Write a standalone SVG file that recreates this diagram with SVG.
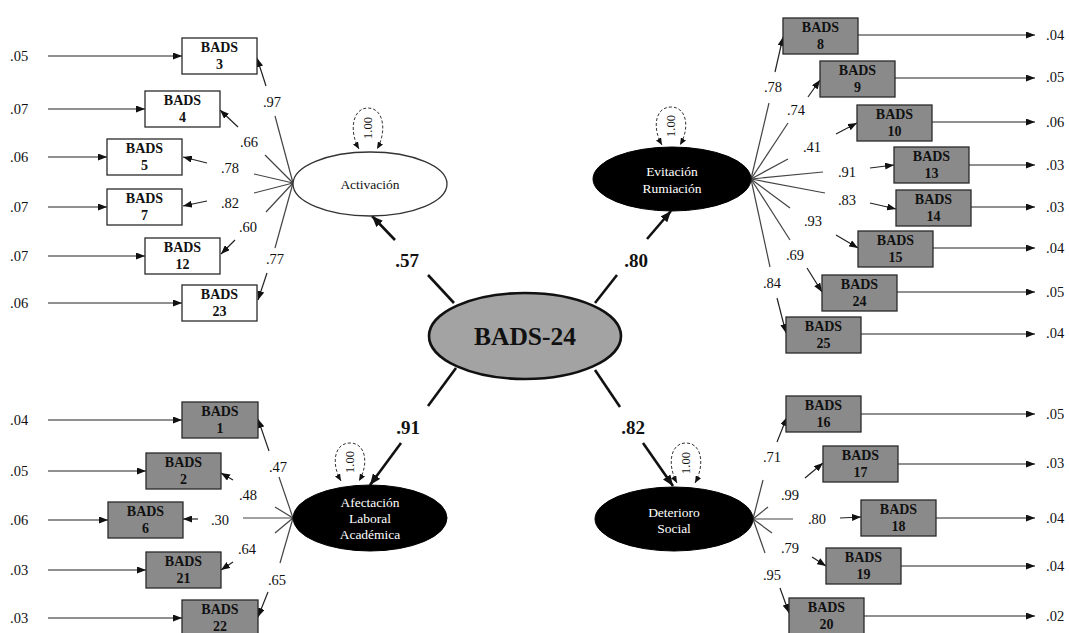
<svg xmlns="http://www.w3.org/2000/svg" width="1069" height="633" viewBox="0 0 1069 633">
<style>
text{font-family:"Liberation Serif","Times New Roman",serif;fill:#111}
.box rect{fill:#8a8a8a;stroke:#2a2a2a;stroke-width:1.3}
.wbox rect{fill:#fff;stroke:#2a2a2a;stroke-width:1.3}
.bt{font-size:14px;font-weight:bold;text-anchor:middle}
.ld{font-size:14.5px;text-anchor:middle}
.er{font-size:14.5px}
.sl{font-size:19px;font-weight:bold;text-anchor:middle}
.fan{stroke:#444;stroke-width:1.2;fill:none}
.ar{stroke:#222;stroke-width:1.2;fill:none;marker-end:url(#ah)}
.st{stroke:#111;stroke-width:2.6;fill:none}
.sa{stroke:#111;stroke-width:2.6;fill:none;marker-end:url(#ahb)}
.lp{stroke:#333;stroke-width:1;stroke-dasharray:3,2;fill:none;marker-start:url(#ahd);marker-end:url(#ahd)}
.lpt{font-size:12.5px;text-anchor:middle}
.el{font-size:13.5px;text-anchor:middle}
</style>
<defs>
<marker id="ah" markerUnits="userSpaceOnUse" markerWidth="9" markerHeight="7" refX="9" refY="3.5" orient="auto"><path d="M0,0 L9,3.5 L0,7 z" fill="#111"/></marker>
<marker id="ahb" markerUnits="userSpaceOnUse" markerWidth="11" markerHeight="9" refX="11" refY="4.5" orient="auto"><path d="M0,0 L11,4.5 L0,9 z" fill="#111"/></marker>
<marker id="ahd" markerUnits="userSpaceOnUse" markerWidth="7" markerHeight="6" refX="7" refY="3" orient="auto-start-reverse"><path d="M0,0 L7,3 L0,6 z" fill="#111"/></marker>
</defs>
<rect width="1069" height="633" fill="#fff"/>

<g id="connectors">
<line class="ar" x1="48" y1="56" x2="182" y2="56"/>
<line class="ar" x1="48" y1="109" x2="145" y2="109"/>
<line class="ar" x1="48" y1="157" x2="107" y2="157"/>
<line class="ar" x1="48" y1="207" x2="107" y2="207"/>
<line class="ar" x1="48" y1="256" x2="145" y2="256"/>
<line class="ar" x1="48" y1="303" x2="182" y2="303"/>
<line class="ar" x1="48" y1="420" x2="182" y2="420"/>
<line class="ar" x1="48" y1="471" x2="146" y2="471"/>
<line class="ar" x1="48" y1="520" x2="108" y2="520"/>
<line class="ar" x1="48" y1="570" x2="146" y2="570"/>
<line class="ar" x1="48" y1="618" x2="182" y2="618"/>
<line class="ar" x1="858" y1="35" x2="1035" y2="35"/>
<line class="ar" x1="895" y1="78" x2="1035" y2="78"/>
<line class="ar" x1="932" y1="122" x2="1035" y2="122"/>
<line class="ar" x1="969" y1="165" x2="1035" y2="165"/>
<line class="ar" x1="971" y1="207" x2="1035" y2="207"/>
<line class="ar" x1="933" y1="248" x2="1035" y2="248"/>
<line class="ar" x1="897" y1="292" x2="1035" y2="292"/>
<line class="ar" x1="861" y1="334" x2="1035" y2="334"/>
<line class="ar" x1="861" y1="414" x2="1035" y2="414"/>
<line class="ar" x1="898" y1="464" x2="1035" y2="464"/>
<line class="ar" x1="936" y1="518" x2="1035" y2="518"/>
<line class="ar" x1="901" y1="566" x2="1035" y2="566"/>
<line class="ar" x1="864" y1="616" x2="1035" y2="616"/>

<line class="fan" x1="293" y1="183" x2="275" y2="116"/><line class="ar" x1="266" y1="86" x2="257" y2="58"/>
<line class="fan" x1="293" y1="183" x2="265" y2="155"/><line class="ar" x1="238" y1="127" x2="220" y2="110"/>
<line class="fan" x1="293" y1="183" x2="254" y2="174"/><line class="ar" x1="207" y1="163" x2="183" y2="157"/>
<line class="fan" x1="293" y1="183" x2="254" y2="193"/><line class="ar" x1="207" y1="201" x2="183" y2="206"/>
<line class="fan" x1="293" y1="183" x2="266" y2="212"/><line class="ar" x1="235" y1="240" x2="221" y2="254"/>
<line class="fan" x1="293" y1="183" x2="275" y2="248"/><line class="ar" x1="267" y1="273" x2="258" y2="300"/>

<line class="fan" x1="751" y1="179" x2="769" y2="103"/><line class="ar" x1="775" y1="72" x2="783" y2="37"/>
<line class="fan" x1="751" y1="179" x2="788" y2="123"/><line class="ar" x1="808" y1="97" x2="820" y2="80"/>
<line class="fan" x1="751" y1="179" x2="788" y2="159"/><line class="ar" x1="836" y1="134" x2="857" y2="123"/>
<line class="fan" x1="751" y1="179" x2="823" y2="172"/><line class="ar" x1="870" y1="168" x2="894" y2="165"/>
<line class="fan" x1="751" y1="179" x2="825" y2="193"/><line class="ar" x1="870" y1="203" x2="896" y2="209"/>
<line class="fan" x1="751" y1="179" x2="790" y2="208"/><line class="ar" x1="836" y1="235" x2="858" y2="248"/>
<line class="fan" x1="751" y1="179" x2="790" y2="240"/><line class="ar" x1="807" y1="268" x2="822" y2="292"/>
<line class="fan" x1="751" y1="179" x2="770" y2="267"/><line class="ar" x1="777" y1="298" x2="786" y2="333"/>

<line class="fan" x1="293" y1="518" x2="279" y2="477"/><line class="ar" x1="269" y1="451" x2="258" y2="419"/>
<line class="fan" x1="293" y1="518" x2="275" y2="507"/><line class="ar" x1="233" y1="480" x2="221" y2="473"/>
<line class="fan" x1="293" y1="518" x2="243" y2="518"/><line class="ar" x1="198" y1="519" x2="183" y2="519"/>
<line class="fan" x1="293" y1="518" x2="275" y2="533"/><line class="ar" x1="233" y1="562" x2="221" y2="570"/>
<line class="fan" x1="293" y1="518" x2="280" y2="563"/><line class="ar" x1="268" y1="592" x2="258" y2="617"/>

<line class="fan" x1="753" y1="519" x2="763" y2="480"/><line class="ar" x1="777" y1="442" x2="787" y2="417"/>
<line class="fan" x1="753" y1="519" x2="768" y2="507"/><line class="ar" x1="805" y1="478" x2="823" y2="463"/>
<line class="fan" x1="753" y1="519" x2="793" y2="519"/><line class="ar" x1="840" y1="518" x2="861" y2="517"/>
<line class="fan" x1="753" y1="519" x2="772" y2="533"/><line class="ar" x1="812" y1="557" x2="826" y2="566"/>
<line class="fan" x1="753" y1="519" x2="765" y2="553"/><line class="ar" x1="780" y1="588" x2="789" y2="613"/>

<line class="st" x1="454" y1="303" x2="428" y2="275"/><line class="sa" x1="395" y1="240" x2="372" y2="216"/>
<line class="st" x1="595" y1="303" x2="617" y2="275"/><line class="sa" x1="647" y1="239" x2="671" y2="211"/>
<line class="st" x1="456" y1="368" x2="428" y2="406"/><line class="sa" x1="401" y1="443" x2="370" y2="485"/>
<line class="st" x1="595" y1="370" x2="620" y2="407"/><line class="sa" x1="643" y1="443" x2="673" y2="486"/>

<path class="lp" d="M359,149 C349,132 352,108 368,108 C384,108 387,132 377,149"/>
<path class="lp" d="M662,145 C652,128 655,107 671,107 C687,107 690,128 680,145"/>
<path class="lp" d="M341,481 C331,464 334,443 350,443 C366,443 369,464 359,481"/>
<path class="lp" d="M677,483 C667,465 670,443 686,443 C702,443 705,465 695,483"/>
</g>

<g id="labels">
<text class="lpt" transform="translate(372,128) rotate(-90)">1.00</text>
<text class="lpt" transform="translate(675,126) rotate(-90)">1.00</text>
<text class="lpt" transform="translate(354,462) rotate(-90)">1.00</text>
<text class="lpt" transform="translate(690,463) rotate(-90)">1.00</text>

<text class="sl" x="407" y="267">.57</text>
<text class="sl" x="636" y="267">.80</text>
<text class="sl" x="408" y="434">.91</text>
<text class="sl" x="633" y="434">.82</text>

<text class="ld" x="272" y="107">.97</text>
<text class="ld" x="249" y="147">.66</text>
<text class="ld" x="230" y="173">.78</text>
<text class="ld" x="230" y="208">.82</text>
<text class="ld" x="248" y="232">.60</text>
<text class="ld" x="275" y="264">.77</text>

<text class="ld" x="773" y="92">.78</text>
<text class="ld" x="796" y="115">.74</text>
<text class="ld" x="812" y="152">.41</text>
<text class="ld" x="847" y="177">.91</text>
<text class="ld" x="847" y="205">.83</text>
<text class="ld" x="813" y="226">.93</text>
<text class="ld" x="795" y="260">.69</text>
<text class="ld" x="772" y="288">.84</text>

<text class="ld" x="278" y="472">.47</text>
<text class="ld" x="248" y="500">.48</text>
<text class="ld" x="220" y="525">.30</text>
<text class="ld" x="247" y="554">.64</text>
<text class="ld" x="277" y="585">.65</text>

<text class="ld" x="772" y="462">.71</text>
<text class="ld" x="790" y="500">.99</text>
<text class="ld" x="817" y="524">.80</text>
<text class="ld" x="790" y="553">.79</text>
<text class="ld" x="772" y="580">.95</text>

<text class="er" x="10" y="61">.05</text>
<text class="er" x="10" y="114">.07</text>
<text class="er" x="10" y="162">.06</text>
<text class="er" x="10" y="212">.07</text>
<text class="er" x="10" y="261">.07</text>
<text class="er" x="10" y="308">.06</text>
<text class="er" x="10" y="425">.04</text>
<text class="er" x="10" y="476">.05</text>
<text class="er" x="10" y="525">.06</text>
<text class="er" x="10" y="575">.03</text>
<text class="er" x="10" y="623">.03</text>

<text class="er" x="1046" y="40">.04</text>
<text class="er" x="1046" y="82">.05</text>
<text class="er" x="1046" y="127">.06</text>
<text class="er" x="1046" y="170">.03</text>
<text class="er" x="1046" y="212">.03</text>
<text class="er" x="1046" y="253">.04</text>
<text class="er" x="1046" y="297">.05</text>
<text class="er" x="1046" y="338">.04</text>
<text class="er" x="1046" y="419">.05</text>
<text class="er" x="1046" y="468">.03</text>
<text class="er" x="1046" y="523">.04</text>
<text class="er" x="1046" y="571">.04</text>
<text class="er" x="1046" y="621">.02</text>
</g>

<g id="BADS-24">
<ellipse cx="525" cy="336" rx="96" ry="43" fill="#a3a3a3" stroke="#111" stroke-width="2.6"/>
<text x="525" y="345" font-size="25.5" font-weight="bold" text-anchor="middle">BADS-24</text>
</g>
<g id="Activacion">
<ellipse cx="370" cy="184" rx="77" ry="32" fill="#fff" stroke="#333" stroke-width="1.3"/>
<text class="el" x="370" y="189">Activación</text>
</g>
<g id="Evitacion">
<ellipse cx="672" cy="179" rx="79" ry="32" fill="#000" stroke="#000"/>
<text class="el" x="672" y="176" style="fill:#fff">Evitación</text>
<text class="el" x="672" y="193" style="fill:#fff">Rumiación</text>
</g>
<g id="Afectacion">
<ellipse cx="370" cy="518" rx="77" ry="33" fill="#000" stroke="#000"/>
<text class="el" x="370" y="507" style="fill:#fff">Afectación</text>
<text class="el" x="370" y="523" style="fill:#fff">Laboral</text>
<text class="el" x="370" y="539" style="fill:#fff">Académica</text>
</g>
<g id="Deterioro">
<ellipse cx="674" cy="519" rx="79" ry="32" fill="#000" stroke="#000"/>
<text class="el" x="674" y="517" style="fill:#fff">Deterioro</text>
<text class="el" x="674" y="533" style="fill:#fff">Social</text>
</g>

<g id="b3" class="wbox"><rect x="182" y="38" width="75" height="36"/><text class="bt" x="219.5" y="52">BADS</text><text class="bt" x="219.5" y="69">3</text></g>
<g id="b4" class="wbox"><rect x="145" y="91" width="75" height="36"/><text class="bt" x="182.5" y="105">BADS</text><text class="bt" x="182.5" y="122">4</text></g>
<g id="b5" class="wbox"><rect x="107" y="139" width="75" height="36"/><text class="bt" x="144.5" y="153">BADS</text><text class="bt" x="144.5" y="170">5</text></g>
<g id="b7" class="wbox"><rect x="107" y="189" width="75" height="36"/><text class="bt" x="144.5" y="203">BADS</text><text class="bt" x="144.5" y="220">7</text></g>
<g id="b12" class="wbox"><rect x="145" y="238" width="75" height="36"/><text class="bt" x="182.5" y="252">BADS</text><text class="bt" x="182.5" y="269">12</text></g>
<g id="b23" class="wbox"><rect x="182" y="285" width="75" height="36"/><text class="bt" x="219.5" y="299">BADS</text><text class="bt" x="219.5" y="316">23</text></g>

<g id="b8" class="box"><rect x="783" y="18" width="75" height="36"/><text class="bt" x="820.5" y="32">BADS</text><text class="bt" x="820.5" y="49">8</text></g>
<g id="b9" class="box"><rect x="820" y="61" width="75" height="36"/><text class="bt" x="857.5" y="75">BADS</text><text class="bt" x="857.5" y="92">9</text></g>
<g id="b10" class="box"><rect x="857" y="105" width="75" height="36"/><text class="bt" x="894.5" y="119">BADS</text><text class="bt" x="894.5" y="136">10</text></g>
<g id="b13" class="box"><rect x="894" y="147" width="75" height="36"/><text class="bt" x="931.5" y="161">BADS</text><text class="bt" x="931.5" y="178">13</text></g>
<g id="b14" class="box"><rect x="896" y="190" width="75" height="36"/><text class="bt" x="933.5" y="204">BADS</text><text class="bt" x="933.5" y="221">14</text></g>
<g id="b15" class="box"><rect x="858" y="231" width="75" height="36"/><text class="bt" x="895.5" y="245">BADS</text><text class="bt" x="895.5" y="262">15</text></g>
<g id="b24" class="box"><rect x="822" y="275" width="75" height="36"/><text class="bt" x="859.5" y="289">BADS</text><text class="bt" x="859.5" y="306">24</text></g>
<g id="b25" class="box"><rect x="786" y="317" width="75" height="36"/><text class="bt" x="823.5" y="331">BADS</text><text class="bt" x="823.5" y="348">25</text></g>

<g id="b1" class="box"><rect x="182" y="402" width="76" height="36"/><text class="bt" x="220" y="416">BADS</text><text class="bt" x="220" y="433">1</text></g>
<g id="b2" class="box"><rect x="146" y="453" width="75" height="36"/><text class="bt" x="183.5" y="467">BADS</text><text class="bt" x="183.5" y="484">2</text></g>
<g id="b6" class="box"><rect x="108" y="502" width="75" height="36"/><text class="bt" x="145.5" y="516">BADS</text><text class="bt" x="145.5" y="533">6</text></g>
<g id="b21" class="box"><rect x="146" y="552" width="75" height="36"/><text class="bt" x="183.5" y="566">BADS</text><text class="bt" x="183.5" y="583">21</text></g>
<g id="b22" class="box"><rect x="182" y="600" width="76" height="36"/><text class="bt" x="220" y="614">BADS</text><text class="bt" x="220" y="631">22</text></g>

<g id="b16" class="box"><rect x="786" y="396" width="75" height="36"/><text class="bt" x="823.5" y="410">BADS</text><text class="bt" x="823.5" y="427">16</text></g>
<g id="b17" class="box"><rect x="823" y="446" width="75" height="36"/><text class="bt" x="860.5" y="460">BADS</text><text class="bt" x="860.5" y="477">17</text></g>
<g id="b18" class="box"><rect x="861" y="500" width="75" height="36"/><text class="bt" x="898.5" y="514">BADS</text><text class="bt" x="898.5" y="531">18</text></g>
<g id="b19" class="box"><rect x="826" y="548" width="75" height="36"/><text class="bt" x="863.5" y="562">BADS</text><text class="bt" x="863.5" y="579">19</text></g>
<g id="b20" class="box"><rect x="789" y="598" width="75" height="36"/><text class="bt" x="826.5" y="612">BADS</text><text class="bt" x="826.5" y="629">20</text></g>
</svg>
